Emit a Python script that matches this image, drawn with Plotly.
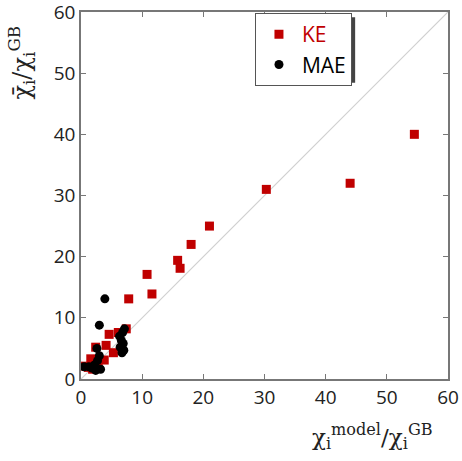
import plotly.graph_objects as go

ke_x = [54.5, 44.0, 30.3, 21.0, 18.0, 15.8, 16.2, 10.8, 11.6, 7.8, 7.4, 6.1, 4.6, 4.1, 5.3, 2.4, 1.6, 3.8, 0.6, 1.9, 2.8, 1.2]
ke_y = [40.0, 32.0, 31.0, 25.0, 22.0, 19.4, 18.1, 17.1, 13.9, 13.1, 8.2, 7.6, 7.3, 5.5, 4.3, 5.2, 3.3, 3.1, 2.1, 1.6, 2.3, 1.9]

mae_x = [3.9, 3.0, 7.1, 6.8, 6.3, 6.6, 6.9, 6.4, 7.0, 6.7, 2.6, 3.0, 2.7, 2.2, 1.3, 0.5, 3.2, 2.4, 1.8]
mae_y = [13.1, 8.8, 8.2, 7.6, 7.0, 6.3, 5.8, 5.2, 4.7, 4.3, 5.0, 3.8, 3.0, 2.3, 2.0, 2.0, 1.6, 1.4, 1.8]

ticks = [0, 10, 20, 30, 40, 50, 60]
diag = [0, 60]

fig = go.Figure()
fig.add_trace(go.Scatter(x=diag, y=diag, mode="lines", line=dict(color="#d0d0d0", width=1.2),
                         showlegend=False, hoverinfo="skip"))
fig.add_trace(go.Scatter(x=ke_x, y=ke_y, mode="markers", name="<span style='color:#c00000'>KE</span>",
                         marker=dict(symbol="square", color="#c00000", size=9)))
fig.add_trace(go.Scatter(x=mae_x, y=mae_y, mode="markers", name="MAE",
                         marker=dict(symbol="circle", color="black", size=9)))

axis_common = dict(range=[0, 60], tickvals=ticks, ticks="inside", ticklen=5, tickcolor="#777",
                   showline=True, linecolor="#777", linewidth=1.5, mirror="ticks",
                   showgrid=False, zeroline=False, automargin=False, ticklabeloverflow="allow",
                   tickfont=dict(family="Open Sans, Liberation Sans, sans-serif", size=19, color="#222"))

fig.update_layout(
    width=462, height=461,
    margin=dict(l=81, r=14, t=12, b=82),
    paper_bgcolor="white", plot_bgcolor="white",
    xaxis=dict(**axis_common),
    yaxis=dict(**axis_common),
    legend=dict(x=0.474, y=0.997, xanchor="left", yanchor="top",
                bgcolor="white", bordercolor="#555", borderwidth=1,
                font=dict(family="Open Sans, Liberation Sans, sans-serif", size=21, color="black"),
                itemwidth=36, tracegroupgap=0),
    shapes=[dict(type="rect", xref="paper", yref="paper", layer="above",
                 x0=0.485, x1=0.747, y0=0.807, y1=0.986,
                 line=dict(width=0), fillcolor="#444")],
    annotations=[
        dict(text="χ<sub>i</sub><sup>model</sup>/χ<sub>i</sub><sup>GB</sup>", xref="paper", yref="paper",
             x=0.793, y=-0.158, xanchor="center", yanchor="middle", showarrow=False,
             font=dict(family="DejaVu Serif, Liberation Serif, serif", size=23, color="#222")),
        dict(text="χ\u0304<sub>i</sub>/χ<sub>i</sub><sup>GB</sup>", xref="paper", yref="paper",
             x=-0.161, y=0.862, xanchor="center", yanchor="middle", showarrow=False, textangle=-90,
             font=dict(family="DejaVu Serif, Liberation Serif, serif", size=24, color="#222")),
    ],
)
fig.write_html("out.html")
